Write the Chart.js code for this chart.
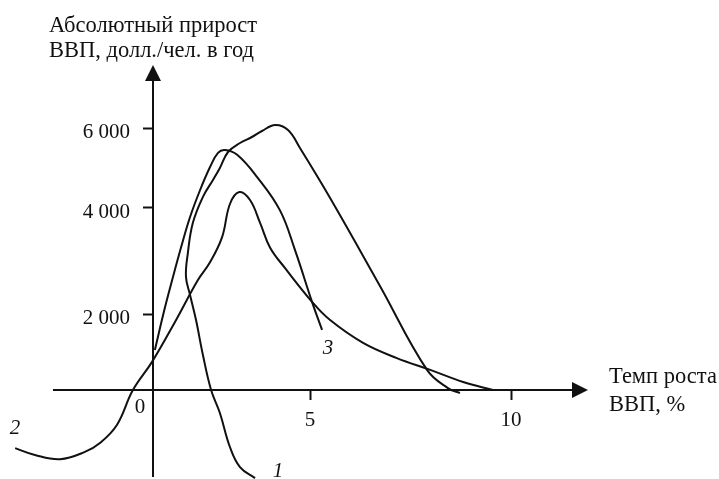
<!DOCTYPE html>
<html>
<head>
<meta charset="utf-8">
<script src="https://cdn.jsdelivr.net/npm/chart.js@4.4.0/dist/chart.umd.min.js"></script>
<style>
  html, body { margin: 0; padding: 0; background: #ffffff; }
  #wrap { width: 719px; height: 479px; }
</style>
</head>
<body>
<div id="wrap"><canvas id="c" width="719" height="479"></canvas></div>
<script>
// ---------- data ----------
const X_TICKS = [5, 10];
const X_TICK_LABELS = ['5', '10'];
const Y_TICKS = [2000, 4000, 6000];
const Y_TICK_LABELS = ['2 000', '4 000', '6 000'];
const CURVE_NAMES = ['1', '2', '3'];

// curve 1 (starts at the bottom near label "1")
const curve1X = [3.25, 2.77, 2.45, 2.13, 1.85, 1.59, 1.37, 1.18, 1.05, 1.11, 1.27, 1.59, 1.91, 2.13, 2.39, 2.77, 3.15, 3.47, 3.89, 4.30, 4.68, 5.50, 6.74, 7.91, 8.43, 8.73];
const curve1Y = [-2320, -2030, -1500, -605, 0, 920, 1840, 2360, 2700, 3150, 3720, 4280, 4700, 5000, 5400, 5625, 5775, 5925, 6075, 5950, 5500, 4250, 2530, 530, 50, -80];

// curve 2 (starts at the far left near label "2")
const curve2X = [-4.39, -3.76, -2.96, -2.17, -1.69, -1.15, -0.64, -0.03, 0.70, 1.43, 1.82, 2.20, 2.45, 2.75, 3.09, 3.41, 3.73, 4.20, 5.05, 5.50, 6.32, 7.16, 7.99, 8.81, 9.55];
const curve2Y = [-1530, -1710, -1820, -1630, -1395, -920, 0, 740, 1790, 2640, 2980, 3450, 4100, 4400, 4200, 3720, 3250, 2870, 2230, 1840, 1240, 840, 530, 210, 0];

// curve 3 (arch ending near label "3")
const curve3X = [0.06, 0.32, 0.61, 0.89, 1.18, 1.50, 1.82, 2.07, 2.29, 2.68, 3.31, 4.04, 4.52, 5.05, 5.30];
const curve3Y = [1050, 1970, 2640, 3250, 3830, 4450, 5030, 5380, 5450, 5330, 4780, 3960, 3210, 2230, 1580];

// ---------- axis geometry (the schematic's axes are not evenly spaced) ----------
const WARP = {
  x: [[0, 0], [5, 157], [10, 358]],
  y: [[0, 0], [2000, 76], [4000, 182], [6000, 262]]
};
const X_MAX = 11.915;
const Y_MAX = 7575;
const X_LINE_START = -3.185;
const Y_LINE_START = -2289;

function warpFwd(knots, v) {
  const n = knots.length;
  let i = 0;
  if (v <= knots[0][0]) i = 0;
  else if (v >= knots[n - 1][0]) i = n - 2;
  else { while (v > knots[i + 1][0]) i++; }
  const [v0, u0] = knots[i], [v1, u1] = knots[i + 1];
  return u0 + (v - v0) * (u1 - u0) / (v1 - v0);
}
function warpInv(knots, u) {
  const n = knots.length;
  let i = 0;
  if (u <= knots[0][1]) i = 0;
  else if (u >= knots[n - 1][1]) i = n - 2;
  else { while (u > knots[i + 1][1]) i++; }
  const [v0, u0] = knots[i], [v1, u1] = knots[i + 1];
  return v0 + (u - u0) * (v1 - v0) / (u1 - u0);
}

class WarpScale extends Chart.LinearScale {
  static id = 'warp';
  static defaults = {};
  _knots() { return WARP[this.axis]; }
  getPixelForValue(value) {
    if (value === null || value === undefined) return NaN;
    const k = this._knots();
    const a = warpFwd(k, this.min), b = warpFwd(k, this.max);
    return this.getPixelForDecimal((warpFwd(k, value) - a) / (b - a));
  }
  getValueForPixel(pixel) {
    const k = this._knots();
    const a = warpFwd(k, this.min), b = warpFwd(k, this.max);
    return warpInv(k, a + this.getDecimalForPixel(pixel) * (b - a));
  }
}
Chart.register(WarpScale);

function pts(xs, ys) { return xs.map((x, i) => ({ x: x, y: ys[i] })); }

const SERIF = '"Liberation Serif", "Times New Roman", serif';
const INK = '#111111';

const decor = {
  id: 'decor',
  beforeDatasetsDraw(chart) {
    const ctx = chart.ctx;
    const xs = chart.scales.x, ys = chart.scales.y;
    const ca = chart.chartArea;
    const x0 = xs.getPixelForValue(0), y0 = ys.getPixelForValue(0);
    const yb = ys.getPixelForValue(Y_LINE_START);
    const xl = xs.getPixelForValue(X_LINE_START);
    ctx.save();
    ctx.strokeStyle = INK;
    ctx.fillStyle = INK;
    ctx.lineWidth = 2;
    // y axis
    ctx.beginPath();
    ctx.moveTo(x0, yb);
    ctx.lineTo(x0, ca.top + 6);
    ctx.stroke();
    ctx.beginPath();
    ctx.moveTo(x0, ca.top);
    ctx.lineTo(x0 - 8, ca.top + 16);
    ctx.lineTo(x0 + 8, ca.top + 16);
    ctx.closePath();
    ctx.fill();
    // x axis
    ctx.beginPath();
    ctx.moveTo(xl, y0);
    ctx.lineTo(ca.right - 6, y0);
    ctx.stroke();
    ctx.beginPath();
    ctx.moveTo(ca.right, y0);
    ctx.lineTo(ca.right - 16, y0 - 8);
    ctx.lineTo(ca.right - 16, y0 + 8);
    ctx.closePath();
    ctx.fill();
    ctx.restore();
  },
  afterDraw(chart) {
    const ctx = chart.ctx;
    const xs = chart.scales.x, ys = chart.scales.y;
    const x0 = xs.getPixelForValue(0), y0 = ys.getPixelForValue(0);
    ctx.save();
    ctx.fillStyle = INK;
    ctx.font = '22.5px ' + SERIF;
    ctx.textAlign = 'left';
    ctx.textBaseline = 'alphabetic';
    // y axis title
    ctx.fillText('Абсолютный прирост', 49, 32);
    ctx.fillText('ВВП, долл./чел. в год', 49, 57);
    // x axis title
    ctx.fillText('Темп роста', 609, 383);
    ctx.fillText('ВВП, %', 609, 411);
    // origin label
    ctx.font = '21px ' + SERIF;
    ctx.textAlign = 'center';
    ctx.textBaseline = 'middle';
    ctx.fillText('0', x0 - 13, y0 + 17);
    // curve numbers
    ctx.font = 'italic 21px ' + SERIF;
    ctx.textBaseline = 'alphabetic';
    ctx.fillText(CURVE_NAMES[0], 278, 477);
    ctx.fillText(CURVE_NAMES[1], 15, 434);
    ctx.fillText(CURVE_NAMES[2], 328, 354);
    ctx.restore();
  }
};

const lineStyle = {
  borderColor: INK,
  borderWidth: 2,
  pointRadius: 0,
  fill: false,
  tension: 0.4,
  clip: false
};

new Chart(document.getElementById('c'), {
  type: 'line',
  data: {
    datasets: [
      Object.assign({ label: CURVE_NAMES[0], data: pts(curve1X, curve1Y) }, lineStyle),
      Object.assign({ label: CURVE_NAMES[1], data: pts(curve2X, curve2Y) }, lineStyle),
      Object.assign({ label: CURVE_NAMES[2], data: pts(curve3X, curve3Y) }, lineStyle)
    ]
  },
  options: {
    responsive: false,
    animation: false,
    layout: { padding: { left: 0, right: 131, top: 65, bottom: 0 } },
    plugins: { legend: { display: false }, tooltip: { enabled: false } },
    scales: {
      x: {
        type: 'warp',
        position: 'bottom',
        bounds: 'data',
        afterDataLimits: s => { s.min = 0; s.max = X_MAX; },
        afterBuildTicks: s => { s.ticks = X_TICKS.map(v => ({ value: v })); },
        afterFit: s => { s.height = 89; },
        border: { display: false },
        grid: { drawOnChartArea: false, drawTicks: true, tickLength: 10, tickWidth: 2, color: INK },
        ticks: {
          padding: 8,
          color: INK,
          font: { family: SERIF, size: 21 },
          maxRotation: 0,
          autoSkip: false,
          callback: v => X_TICK_LABELS[X_TICKS.indexOf(v)]
        }
      },
      y: {
        type: 'warp',
        position: 'left',
        bounds: 'data',
        afterDataLimits: s => { s.min = 0; s.max = Y_MAX; },
        afterBuildTicks: s => { s.ticks = Y_TICKS.map(v => ({ value: v })); },
        afterFit: s => { s.width = 153; },
        border: { display: false },
        grid: { drawOnChartArea: false, drawTicks: true, tickLength: 10, tickWidth: 2, color: INK },
        ticks: {
          padding: 13,
          labelOffset: 4,
          color: INK,
          font: { family: SERIF, size: 21 },
          autoSkip: false,
          callback: v => Y_TICK_LABELS[Y_TICKS.indexOf(v)]
        }
      }
    }
  },
  plugins: [decor]
});
</script>
</body>
</html>
